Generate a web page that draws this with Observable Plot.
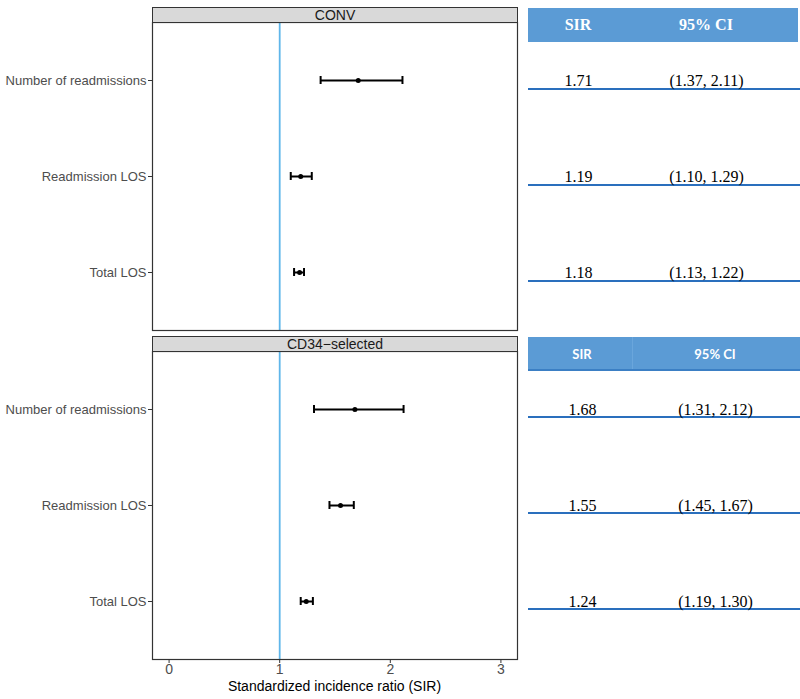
<!DOCTYPE html>
<html><head><meta charset="utf-8">
<script src="https://cdn.jsdelivr.net/npm/d3@7"></script>
<script src="https://cdn.jsdelivr.net/npm/@observablehq/plot@0.6"></script>
<style>
body{margin:0;background:#fff;}
#wrap{position:relative;width:800px;height:699px;overflow:hidden;background:#fff;}
.abs{position:absolute;box-sizing:border-box;}
</style></head><body><div id="wrap"></div>
<script>
const groups = ["CONV", "CD34\u2212selected"];
const outcomes = ["Number of readmissions", "Readmission LOS", "Total LOS"];
const sirConv = [1.71, 1.19, 1.18];
const lowConv = [1.37, 1.10, 1.13];
const highConv = [2.11, 1.29, 1.22];
const sirCd34 = [1.68, 1.55, 1.24];
const lowCd34 = [1.31, 1.45, 1.19];
const highCd34 = [2.12, 1.67, 1.30];
const xTicks = [0, 1, 2, 3];
const refValue = 1;
const xLabel = "Standardized incidence ratio (SIR)";
const tableHeaders = ["SIR", "95% CI"];

const rows = [];
[[sirConv, lowConv, highConv], [sirCd34, lowCd34, highCd34]].forEach(([s, l, h], gi) =>
  outcomes.forEach((o, oi) => rows.push({group: groups[gi], gi, outcome: o, sir: s[oi], lo: l[oi], hi: h[oi]})));

const H = 699, MT = 22, MB = 39;
const yOpts = {domain: outcomes, type: "band", paddingInner: 0, paddingOuter: 0.1, axis: null, label: null};
const fyOpts = {domain: groups, paddingInner: 0.0637, paddingOuter: 0, axis: null, label: null};

const wrap = document.getElementById("wrap");

const plot = Plot.plot({
  width: 520, height: H, marginLeft: 152, marginRight: 3, marginTop: MT, marginBottom: MB,
  style: {fontFamily: "'Liberation Sans', Arial, sans-serif", fontSize: "13px", background: "transparent", overflow: "visible"},
  x: {domain: [-0.15, 3.15], label: null},
  y: yOpts,
  fy: fyOpts,
  marks: [
    Plot.ruleX([refValue], {x: d => d, stroke: "#5fb6ea", strokeWidth: 1.8}),
    Plot.ruleY(rows, {y: "outcome", fy: "group", x1: "lo", x2: "hi", stroke: "black", strokeWidth: 2}),
    Plot.tickX(rows, {x: "lo", y: "outcome", fy: "group", insetTop: 44, insetBottom: 44, stroke: "black", strokeWidth: 2}),
    Plot.tickX(rows, {x: "hi", y: "outcome", fy: "group", insetTop: 44, insetBottom: 44, stroke: "black", strokeWidth: 2}),
    Plot.dot(rows, {x: "sir", y: "outcome", fy: "group", r: 2.5, fill: "black", stroke: null}),
    Plot.frame({stroke: "#333", strokeWidth: 1.2}),
    Plot.axisY({tickSize: 4, tickPadding: 2, stroke: "#333", fill: "#4d4d4d", fontSize: 13, label: null}),
    Plot.axisX({ticks: xTicks, tickFormat: d3.format("d"), tickSize: 4, tickPadding: 1, stroke: "#333", fill: "#4d4d4d", fontSize: 14, label: null})
  ]
});
plot.style.position = "absolute";
plot.style.left = "0px";
plot.style.top = "0px";
wrap.appendChild(plot);

const fy = plot.scale("fy");
const xs = plot.scale("x");
const [fx0, fx1] = xs.range;

// strips
groups.forEach(g => {
  const top = fy.apply(g);
  const d = document.createElement("div");
  d.className = "abs";
  Object.assign(d.style, {font: "14px 'Liberation Sans', Arial, sans-serif", left: fx0 + "px", top: (top - 15) + "px",
    width: (fx1 - fx0 + 1) + "px", height: "16px", background: "#d9d9d9", border: "1px solid #333",
    color: "#1a1a1a", textAlign: "center", lineHeight: "14px"});
  d.textContent = g;
  wrap.appendChild(d);
});

// x axis title
const t = document.createElement("div");
t.className = "abs";
Object.assign(t.style, {font: "14px 'Liberation Sans', Arial, sans-serif", left: fx0 + "px", width: (fx1 - fx0) + "px",
  top: "677px", textAlign: "center", lineHeight: "18px", color: "#000"});
t.textContent = xLabel;
wrap.appendChild(t);

// table
const TL = 528;
const colShift = [[0, 0], [4, 9]];
const tableMarks = [];
[0, 1].forEach(gi => {
  const data = rows.filter(r => r.gi === gi);
  tableMarks.push(Plot.ruleY(data, {y: "outcome", fy: "group", dy: gi === 0 ? 8.5 : 7.5, stroke: "#2a6fbd", strokeWidth: 2}));
  tableMarks.push(Plot.text(data, {x: () => tableHeaders[0], y: "outcome", fy: "group", dx: colShift[gi][0], dy: 0,
    text: d => d.sir.toFixed(2), fill: "black", fontSize: 16, fontFamily: "'Liberation Serif', 'Times New Roman', serif"}));
  tableMarks.push(Plot.text(data, {x: () => tableHeaders[1], y: "outcome", fy: "group", dx: colShift[gi][1], dy: 0,
    text: d => `(${d.lo.toFixed(2)}, ${d.hi.toFixed(2)})`, fill: "black", fontSize: 16, fontFamily: "'Liberation Serif', 'Times New Roman', serif"}));
});
const tplot = Plot.plot({
  width: 272, height: H, marginLeft: 0, marginRight: 0, marginTop: MT, marginBottom: MB,
  style: {background: "transparent", overflow: "visible"},
  x: {type: "point", domain: tableHeaders, range: [50, 178], padding: 0, axis: null},
  y: yOpts,
  fy: fyOpts,
  marks: tableMarks
});
tplot.style.position = "absolute";
tplot.style.left = TL + "px";
tplot.style.top = "0px";
wrap.appendChild(tplot);

const tfy = tplot.scale("fy");
const tx = tplot.scale("x");
groups.forEach((g, gi) => {
  const top = tfy.apply(g);
  const h = document.createElement("div");
  h.className = "abs";
  Object.assign(h.style, {left: TL + "px", top: (top - 14.5) + "px", width: (gi === 0 ? 270 : 272) + "px", height: "34px",
    background: "#5b9bd5"});
  if (gi === 1) h.style.borderBottom = "2px solid #3b7fc4";
  wrap.appendChild(h);
  if (gi === 1) {
    const dv = document.createElement("div");
    dv.className = "abs";
    Object.assign(dv.style, {left: (TL + 104) + "px", top: (top - 14.5) + "px", width: "1px", height: "32px", background: "#6aa6dc"});
    wrap.appendChild(dv);
  }
  tableHeaders.forEach((c, ci) => {
    const s = document.createElement("div");
    s.className = "abs";
    const cx = TL + tx.apply(c) + colShift[gi][ci];
    Object.assign(s.style, {
      font: gi === 0 ? "bold 16px 'Liberation Serif', 'Times New Roman', serif" : "bold 13px Lato, 'Open Sans', sans-serif",
      left: (cx - 60) + "px", width: "120px", top: (top - 14.5) + "px", height: "34px",
      lineHeight: "34px", textAlign: "center", color: "#fff"});
    s.textContent = c;
    wrap.appendChild(s);
  });
});
</script>
</body></html>
